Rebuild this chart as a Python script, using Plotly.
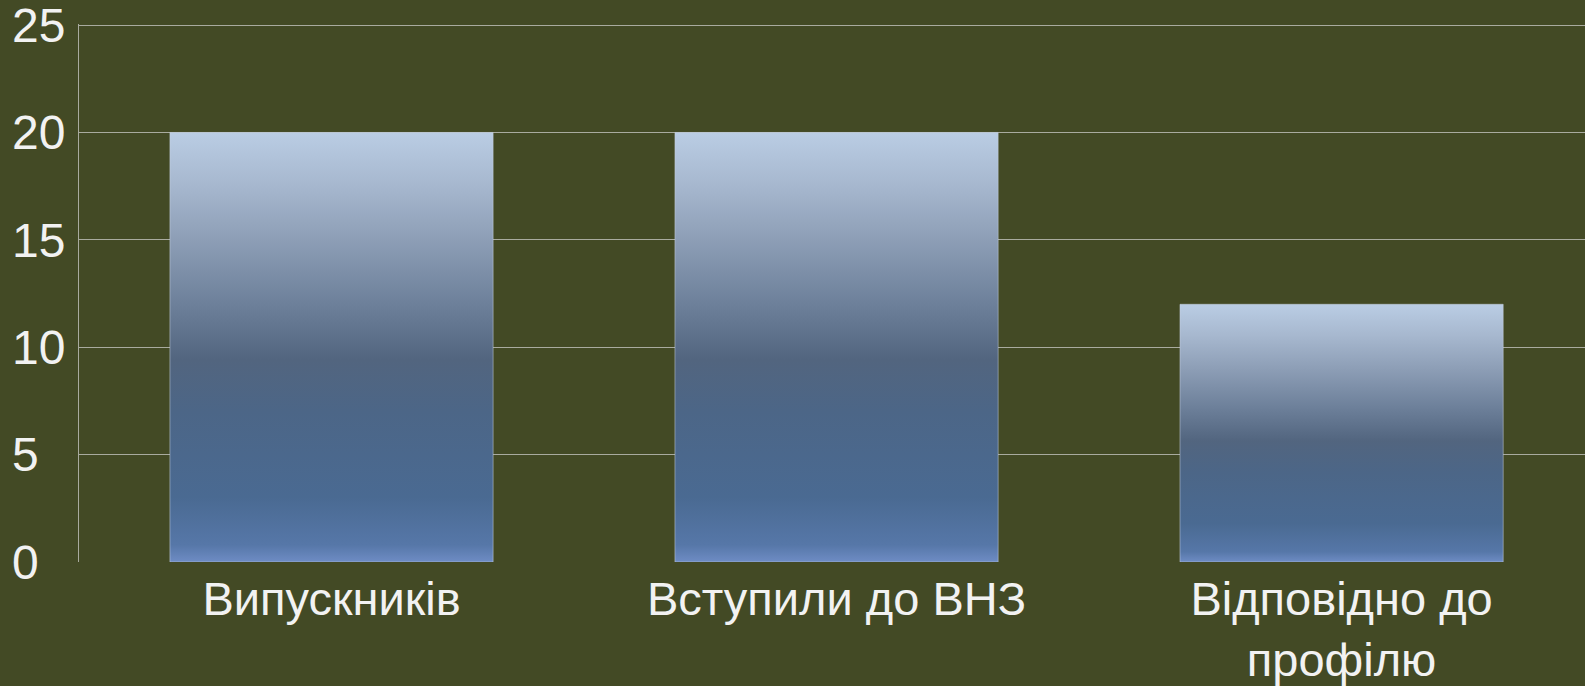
import plotly.graph_objects as go

categories = ["Випускників", "Вступили до ВНЗ", "Відповідно до<br>профілю"]
values = [20, 20, 12]
y_ticks = [0, 5, 10, 15, 20, 25]

BG = "#434A25"
GRID = "#A9AB9F"
TXT = "#F2F2F2"
BAR_W = 0.64

grad = [
    [0.0, "#6E8CC4"], [0.04, "#5677A8"], [0.15, "#4A6A92"], [0.35, "#4C6687"],
    [0.47, "#52657F"], [0.6, "#6D809A"], [0.75, "#8D9EB6"], [0.88, "#A7B8CF"],
    [1.0, "#BACDE4"],
]

fig = go.Figure()
for i, v in enumerate(values):
    x0, x1 = i - BAR_W / 2, i + BAR_W / 2
    fig.add_trace(go.Scatter(
        x=[x0, x1, x1, x0, x0], y=[0, 0, v, v, 0],
        mode="lines", fill="toself",
        line=dict(color="rgba(200,210,225,0.5)", width=1),
        fillgradient=dict(type="vertical", colorscale=grad, start=0, stop=v),
        hoverinfo="skip", showlegend=False,
    ))

# left-aligned y labels: pad single digits with a figure space
y_ticktext = [str(t).ljust(2, "\u2007") for t in y_ticks]

fig.update_layout(
    width=1585, height=686,
    margin=dict(l=79, r=0, t=24, b=124),
    paper_bgcolor=BG, plot_bgcolor=BG,
    font=dict(family="Arial, Liberation Sans, sans-serif", size=47, color=TXT),
    showlegend=False,
)
fig.update_xaxes(
    range=[-0.5, 2.482], tickvals=list(range(len(categories))), ticktext=categories,
    showgrid=False, zeroline=False, showline=False, ticks="", automargin=False,
    tickfont=dict(size=47, color=TXT), ticklabelstandoff=5,
)
fig.update_yaxes(
    range=[0, 25.05], tickvals=y_ticks, ticktext=y_ticktext,
    showgrid=True, gridcolor=GRID, gridwidth=1,
    zeroline=False, showline=True, linecolor=GRID, linewidth=1, ticks="", automargin=False,
    tickfont=dict(size=48, color=TXT), ticklabelstandoff=3, ticklabeloverflow="allow",
)
fig.write_html(
    "out.html",
    config={"displayModeBar": False},
    post_script="document.body.style.margin='0';document.body.style.overflow='hidden';",
)
